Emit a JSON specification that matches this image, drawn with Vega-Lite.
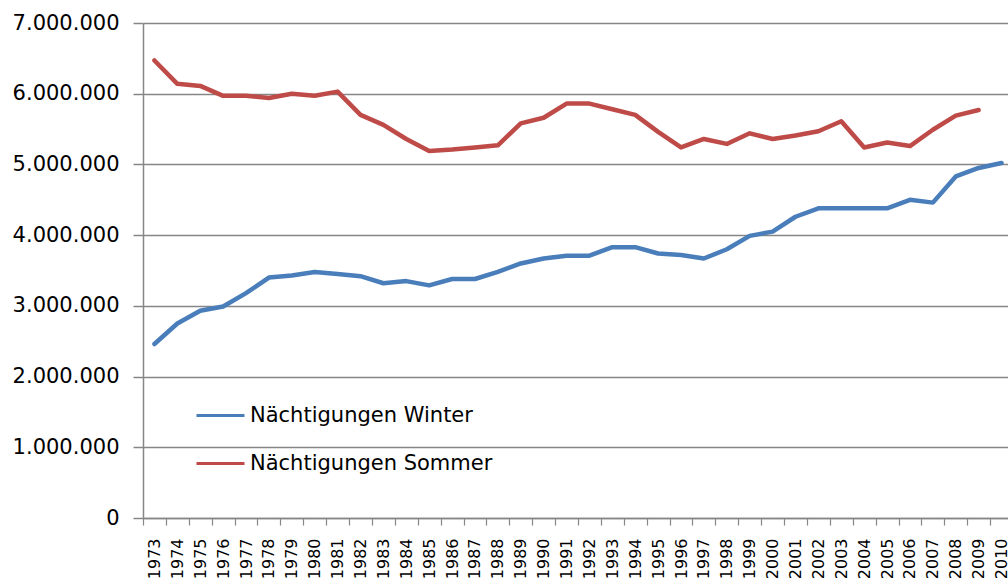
{
  "$schema": "https://vega.github.io/schema/vega-lite/v6.json",
  "autosize": {"type": "none"},
  "padding": {"left": 143, "top": 23, "right": 0, "bottom": 66},
  "width": 865,
  "height": 495,
  "background": "#ffffff",
  "config": {
    "view": {"stroke": null},
    "locale": {"number": {"decimal": ",", "thousands": ".", "grouping": [3], "currency": ["", " €"]}},
    "font": "DejaVu Sans"
  },
  "data": {
    "values": [
      {"Jahr": "1973", "Serie": "Nächtigungen Winter", "Wert": 2460000},
      {"Jahr": "1974", "Serie": "Nächtigungen Winter", "Wert": 2750000},
      {"Jahr": "1975", "Serie": "Nächtigungen Winter", "Wert": 2930000},
      {"Jahr": "1976", "Serie": "Nächtigungen Winter", "Wert": 2990000},
      {"Jahr": "1977", "Serie": "Nächtigungen Winter", "Wert": 3180000},
      {"Jahr": "1978", "Serie": "Nächtigungen Winter", "Wert": 3400000},
      {"Jahr": "1979", "Serie": "Nächtigungen Winter", "Wert": 3430000},
      {"Jahr": "1980", "Serie": "Nächtigungen Winter", "Wert": 3480000},
      {"Jahr": "1981", "Serie": "Nächtigungen Winter", "Wert": 3450000},
      {"Jahr": "1982", "Serie": "Nächtigungen Winter", "Wert": 3420000},
      {"Jahr": "1983", "Serie": "Nächtigungen Winter", "Wert": 3320000},
      {"Jahr": "1984", "Serie": "Nächtigungen Winter", "Wert": 3350000},
      {"Jahr": "1985", "Serie": "Nächtigungen Winter", "Wert": 3290000},
      {"Jahr": "1986", "Serie": "Nächtigungen Winter", "Wert": 3380000},
      {"Jahr": "1987", "Serie": "Nächtigungen Winter", "Wert": 3380000},
      {"Jahr": "1988", "Serie": "Nächtigungen Winter", "Wert": 3480000},
      {"Jahr": "1989", "Serie": "Nächtigungen Winter", "Wert": 3600000},
      {"Jahr": "1990", "Serie": "Nächtigungen Winter", "Wert": 3670000},
      {"Jahr": "1991", "Serie": "Nächtigungen Winter", "Wert": 3710000},
      {"Jahr": "1992", "Serie": "Nächtigungen Winter", "Wert": 3710000},
      {"Jahr": "1993", "Serie": "Nächtigungen Winter", "Wert": 3830000},
      {"Jahr": "1994", "Serie": "Nächtigungen Winter", "Wert": 3830000},
      {"Jahr": "1995", "Serie": "Nächtigungen Winter", "Wert": 3740000},
      {"Jahr": "1996", "Serie": "Nächtigungen Winter", "Wert": 3720000},
      {"Jahr": "1997", "Serie": "Nächtigungen Winter", "Wert": 3670000},
      {"Jahr": "1998", "Serie": "Nächtigungen Winter", "Wert": 3800000},
      {"Jahr": "1999", "Serie": "Nächtigungen Winter", "Wert": 3990000},
      {"Jahr": "2000", "Serie": "Nächtigungen Winter", "Wert": 4050000},
      {"Jahr": "2001", "Serie": "Nächtigungen Winter", "Wert": 4260000},
      {"Jahr": "2002", "Serie": "Nächtigungen Winter", "Wert": 4380000},
      {"Jahr": "2003", "Serie": "Nächtigungen Winter", "Wert": 4380000},
      {"Jahr": "2004", "Serie": "Nächtigungen Winter", "Wert": 4380000},
      {"Jahr": "2005", "Serie": "Nächtigungen Winter", "Wert": 4380000},
      {"Jahr": "2006", "Serie": "Nächtigungen Winter", "Wert": 4500000},
      {"Jahr": "2007", "Serie": "Nächtigungen Winter", "Wert": 4460000},
      {"Jahr": "2008", "Serie": "Nächtigungen Winter", "Wert": 4830000},
      {"Jahr": "2009", "Serie": "Nächtigungen Winter", "Wert": 4950000},
      {"Jahr": "2010", "Serie": "Nächtigungen Winter", "Wert": 5020000},
      {"Jahr": "1973", "Serie": "Nächtigungen Sommer", "Wert": 6470000},
      {"Jahr": "1974", "Serie": "Nächtigungen Sommer", "Wert": 6140000},
      {"Jahr": "1975", "Serie": "Nächtigungen Sommer", "Wert": 6110000},
      {"Jahr": "1976", "Serie": "Nächtigungen Sommer", "Wert": 5970000},
      {"Jahr": "1977", "Serie": "Nächtigungen Sommer", "Wert": 5970000},
      {"Jahr": "1978", "Serie": "Nächtigungen Sommer", "Wert": 5940000},
      {"Jahr": "1979", "Serie": "Nächtigungen Sommer", "Wert": 6000000},
      {"Jahr": "1980", "Serie": "Nächtigungen Sommer", "Wert": 5970000},
      {"Jahr": "1981", "Serie": "Nächtigungen Sommer", "Wert": 6030000},
      {"Jahr": "1982", "Serie": "Nächtigungen Sommer", "Wert": 5700000},
      {"Jahr": "1983", "Serie": "Nächtigungen Sommer", "Wert": 5560000},
      {"Jahr": "1984", "Serie": "Nächtigungen Sommer", "Wert": 5360000},
      {"Jahr": "1985", "Serie": "Nächtigungen Sommer", "Wert": 5190000},
      {"Jahr": "1986", "Serie": "Nächtigungen Sommer", "Wert": 5210000},
      {"Jahr": "1987", "Serie": "Nächtigungen Sommer", "Wert": 5240000},
      {"Jahr": "1988", "Serie": "Nächtigungen Sommer", "Wert": 5270000},
      {"Jahr": "1989", "Serie": "Nächtigungen Sommer", "Wert": 5580000},
      {"Jahr": "1990", "Serie": "Nächtigungen Sommer", "Wert": 5660000},
      {"Jahr": "1991", "Serie": "Nächtigungen Sommer", "Wert": 5860000},
      {"Jahr": "1992", "Serie": "Nächtigungen Sommer", "Wert": 5860000},
      {"Jahr": "1993", "Serie": "Nächtigungen Sommer", "Wert": 5780000},
      {"Jahr": "1994", "Serie": "Nächtigungen Sommer", "Wert": 5700000},
      {"Jahr": "1995", "Serie": "Nächtigungen Sommer", "Wert": 5460000},
      {"Jahr": "1996", "Serie": "Nächtigungen Sommer", "Wert": 5240000},
      {"Jahr": "1997", "Serie": "Nächtigungen Sommer", "Wert": 5360000},
      {"Jahr": "1998", "Serie": "Nächtigungen Sommer", "Wert": 5290000},
      {"Jahr": "1999", "Serie": "Nächtigungen Sommer", "Wert": 5440000},
      {"Jahr": "2000", "Serie": "Nächtigungen Sommer", "Wert": 5360000},
      {"Jahr": "2001", "Serie": "Nächtigungen Sommer", "Wert": 5410000},
      {"Jahr": "2002", "Serie": "Nächtigungen Sommer", "Wert": 5470000},
      {"Jahr": "2003", "Serie": "Nächtigungen Sommer", "Wert": 5610000},
      {"Jahr": "2004", "Serie": "Nächtigungen Sommer", "Wert": 5240000},
      {"Jahr": "2005", "Serie": "Nächtigungen Sommer", "Wert": 5310000},
      {"Jahr": "2006", "Serie": "Nächtigungen Sommer", "Wert": 5260000},
      {"Jahr": "2007", "Serie": "Nächtigungen Sommer", "Wert": 5490000},
      {"Jahr": "2008", "Serie": "Nächtigungen Sommer", "Wert": 5690000},
      {"Jahr": "2009", "Serie": "Nächtigungen Sommer", "Wert": 5770000}
    ]
  },
  "mark": {"type": "line", "strokeWidth": 4.5, "strokeJoin": "round", "strokeCap": "round"},
  "encoding": {
    "x": {
      "field": "Jahr",
      "type": "ordinal",
      "bandPosition": 0.5,
      "scale": {"type": "band", "paddingInner": 0, "paddingOuter": 0, "range": [0, 870]},
      "axis": {
        "title": null,
        "labelAngle": -90,
        "tickBand": "extent",
        "grid": false,
        "domainColor": "#868686",
        "domainWidth": 1.5,
        "tickColor": "#868686",
        "tickWidth": 1.2,
        "tickSize": 7,
        "labelFont": "DejaVu Sans",
        "labelFontSize": 16,
        "labelColor": "#000000",
        "labelPadding": 13
      }
    },
    "y": {
      "field": "Wert",
      "type": "quantitative",
      "scale": {"domain": [0, 7000000], "nice": false, "zero": true},
      "axis": {
        "title": null,
        "values": [0, 1000000, 2000000, 3000000, 4000000, 5000000, 6000000, 7000000],
        "format": ",d",
        "grid": true,
        "gridColor": "#868686",
        "gridWidth": 1.5,
        "domainColor": "#868686",
        "domainWidth": 1.5,
        "tickColor": "#868686",
        "tickWidth": 1.5,
        "tickSize": 10,
        "labelFont": "DejaVu Sans",
        "labelFontSize": 21,
        "labelColor": "#000000",
        "labelPadding": 14
      }
    },
    "color": {
      "field": "Serie",
      "type": "nominal",
      "sort": ["Nächtigungen Winter", "Nächtigungen Sommer"],
      "scale": {"domain": ["Nächtigungen Winter", "Nächtigungen Sommer"], "range": ["#4A7EBB", "#BE4B48"]},
      "legend": {
        "title": null,
        "orient": "none",
        "legendX": 52,
        "legendY": 367,
        "symbolType": "stroke",
        "symbolSize": 2304,
        "symbolStrokeWidth": 3,
        "labelFont": "DejaVu Sans",
        "labelFontSize": 21,
        "labelColor": "#000000",
        "labelOffset": 4,
        "labelLimit": 0,
        "rowPadding": 12
      }
    }
  }
}
